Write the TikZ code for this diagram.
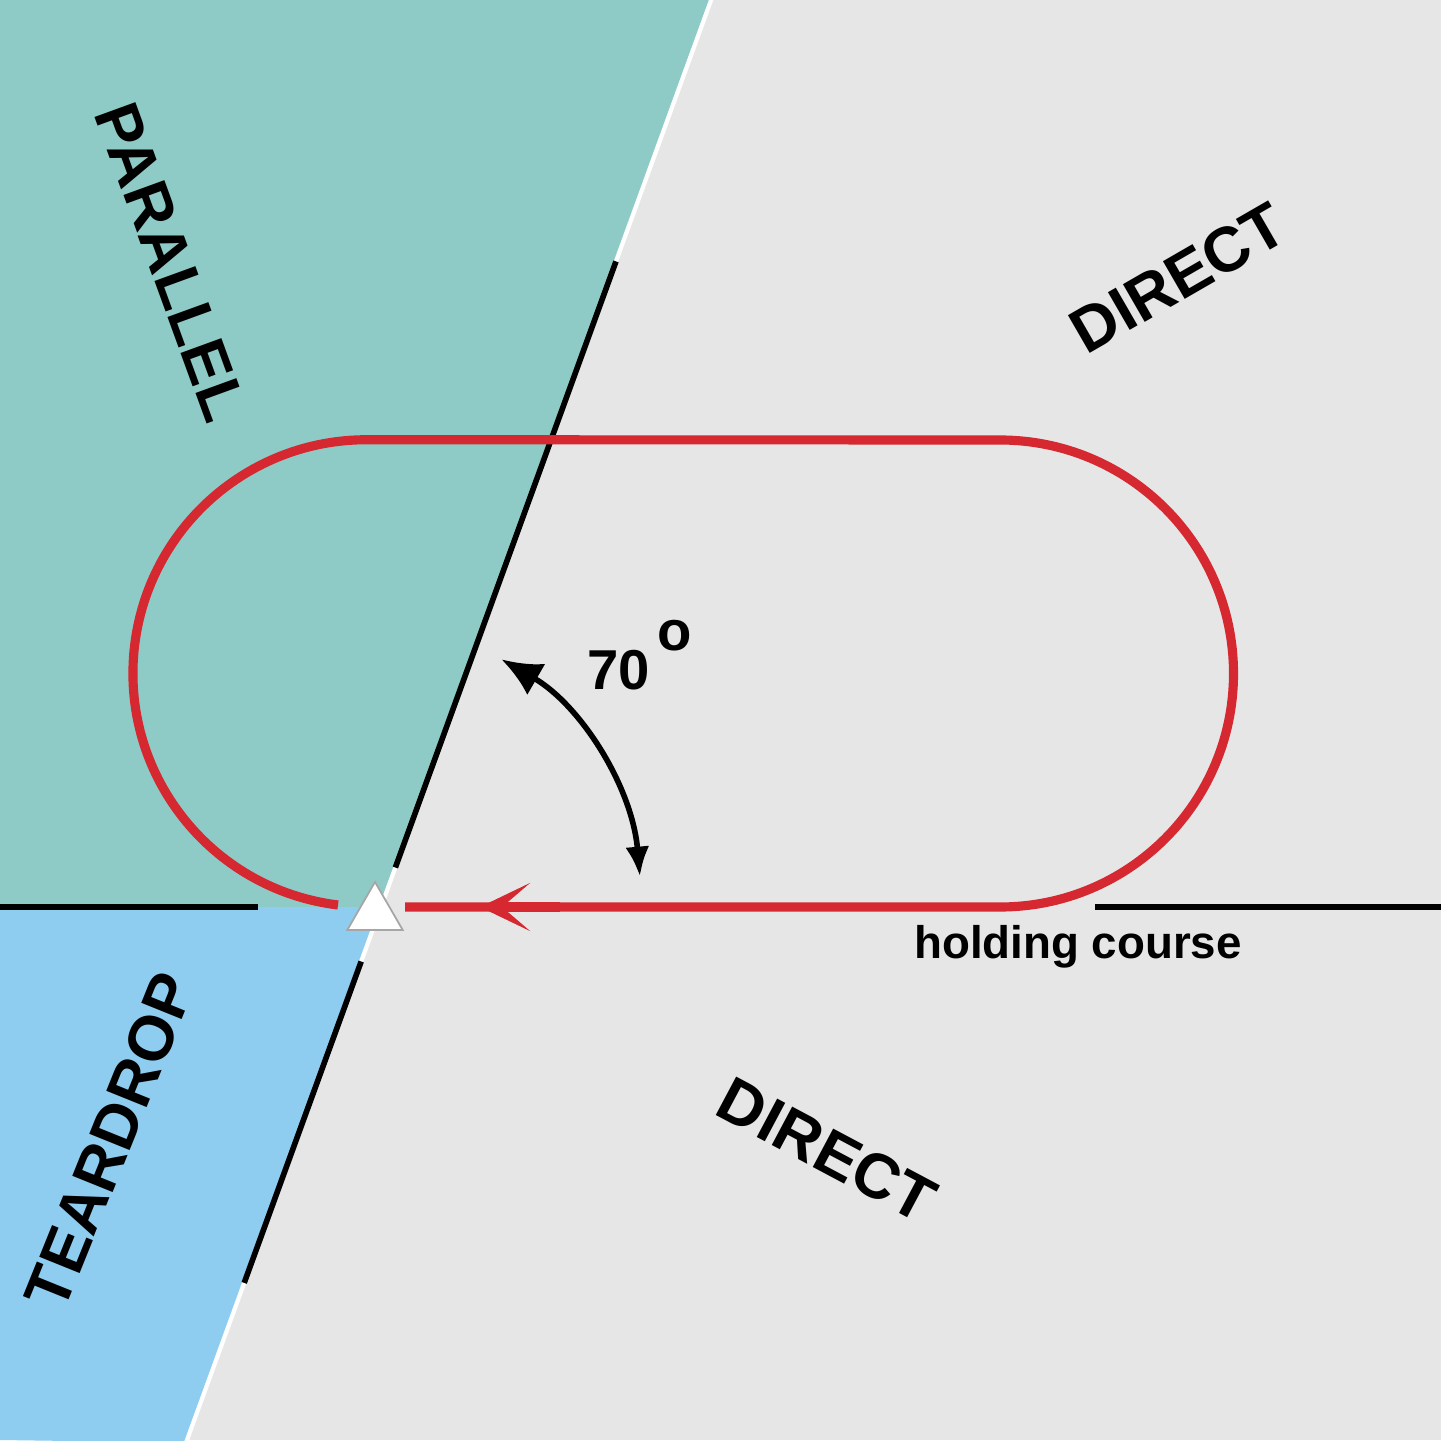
\documentclass[tikz,border=0pt]{standalone}
\usepackage{fontspec}
\setmainfont{Liberation Sans}
\usetikzlibrary{arrows.meta,calc,shapes.geometric}
\definecolor{sectorgray}{RGB}{230,230,230}
\definecolor{parallelteal}{RGB}{143,203,198}
\definecolor{teardropblue}{RGB}{142,205,240}
\definecolor{track}{RGB}{214,40,48}

\begin{document}
\begin{tikzpicture}[font=\bfseries,
  sector label/.style={font=\fontsize{18}{20}\selectfont\bfseries, inner sep=0pt},
  holding/.style={draw=track, line width=2.6pt},
  edge/.style={line width=1.6pt}]
  \fill[sectorgray] (0,0) rectangle (14.41,14.40);
  \useasboundingbox (0,0) rectangle (14.41,14.40);
  \coordinate (fix) at (3.81,5.33);
  \coordinate (top) at ($(fix)+(70:9.66)$);
  \coordinate (bot) at ($(fix)+(250:5.70)$);
  \coordinate (pivot) at (3.62,5.39);
  % entry sectors
  \fill[parallelteal] (0,14.40) -- (top) -- (fix) -- (0,5.33) -- cycle;
  \fill[teardropblue] (0,5.33) -- (fix) -- (bot) -- (0,0) -- cycle;
  \draw[white, line width=1.2pt] (bot) -- (top);
  \draw[edge] ($(fix)+(70:0.42)$) -- ($(fix)+(70:6.87)$);
  \draw[edge] ($(fix)+(250:0.58)$) -- ($(fix)+(250:4.00)$);
  \draw[edge] (0,5.33) -- (2.58,5.33);
  \draw[edge] (10.95,5.33) -- (14.41,5.33);
  % racetrack
  \draw[holding] (3.38,5.35) arc[start angle=263, end angle=90, radius=2.335]
    -- (10.00,10.00) arc[start angle=90, end angle=-90, radius=2.335] -- (4.05,5.33);
  \draw[holding, -{Stealth[length=5mm,width=4.8mm,inset=2.8mm]}] (5.6,5.33) -- (4.80,5.33);
  \node[regular polygon, regular polygon sides=3, draw=gray!70, fill=white,
    minimum size=0.64cm, inner sep=0pt, line width=0.5pt] (beacon) at (3.75,5.26) {};
  % 70 degree angle
  \draw[line width=1.6pt, {Latex[length=4mm,width=3.6mm]}-{Latex[length=3mm,width=2.4mm]}]
    ($(pivot)+(60:2.79)$) arc[start angle=60, end angle=5, radius=2.79];
  \node[anchor=base west, inner sep=0pt, font=\fontsize{16}{18}\selectfont\bfseries] (angle)
    at (5.87,7.50) {70\hspace{0.12em}\raisebox{0.71em}{o}};
  \node[sector label, rotate=-70] (parallel) at (1.71,11.78) {PARALLEL};
  \node[sector label, rotate=68] (teardrop) at (1.10,2.99) {TEARDROP};
  \node[sector label, rotate=30] (directN) at (11.78,11.62) {DIRECT};
  \node[sector label, rotate=-28] (directS) at (8.27,2.90) {DIRECT};
  \node[font=\fontsize{13}{15}\selectfont\bfseries] (course) at (10.78,4.93) {holding course};
\end{tikzpicture}
\end{document}
